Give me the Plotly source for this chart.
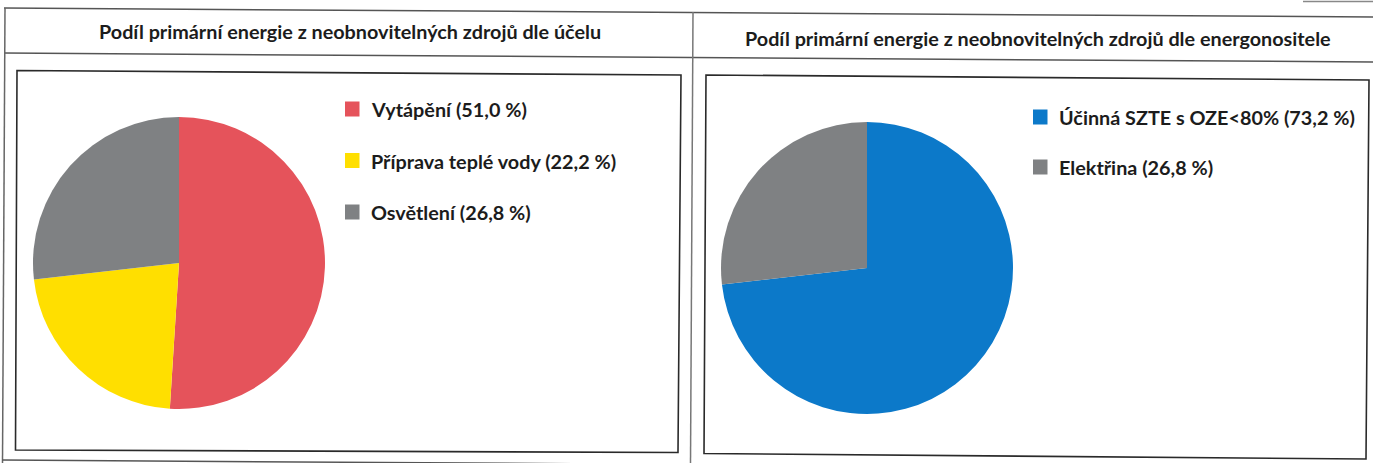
import plotly.graph_objects as go

W, H = 1373, 463

# ---- data ----
titles = ["Podíl primární energie z neobnovitelných zdrojů dle účelu",
          "Podíl primární energie z neobnovitelných zdrojů dle energonositele"]
labels_ucel = ["Vytápění", "Příprava teplé vody", "Osvětlení"]
values_ucel = [51.0, 22.2, 26.8]
colors_ucel = ["#E5535B", "#FFDF00", "#7F8183"]

labels_nositel = ["Účinná SZTE s OZE<80%", "Elektřina"]
values_nositel = [73.2, 26.8]
colors_nositel = ["#0C79C9", "#7F8183"]

FONT = "Lato"
FS = 19.8
TXT = "#1c1c1c"


def px(x):
    return x / W


def py(y):
    return 1 - y / H


def dom(cx, cy, r):
    return dict(x=[px(cx - r), px(cx + r)], y=[py(cy + r), py(cy - r)])


fig = go.Figure()
fig.add_trace(go.Pie(labels=labels_ucel, values=values_ucel, sort=False,
                     direction="clockwise", rotation=0, textinfo="none",
                     marker=dict(colors=colors_ucel, line=dict(width=0)),
                     domain=dom(179, 263, 146), showlegend=False))
fig.add_trace(go.Pie(labels=labels_nositel, values=values_nositel, sort=False,
                     direction="clockwise", rotation=0, textinfo="none",
                     marker=dict(colors=colors_nositel, line=dict(width=0)),
                     domain=dom(867, 268, 146), showlegend=False))

shapes = []
annotations = []


def line(x0, y0, x1, y1, color="#444", width=1.5):
    shapes.append(dict(type="line", xref="paper", yref="paper",
                       x0=px(x0), y0=py(y0), x1=px(x1), y1=py(y1),
                       line=dict(color=color, width=width)))


def quad(pts, color="#2a2a2a", width=1.6):
    path = "M " + " L ".join(f"{px(x):.5f},{py(y):.5f}" for x, y in pts) + " Z"
    shapes.append(dict(type="path", xref="paper", yref="paper", path=path,
                       line=dict(color=color, width=width)))


# outer table
line(4, 8, 1373, 17, "#555", 1.5)
line(4, 53, 1373, 62, "#555", 1.5)
line(5, 8, 2.5, 463, "#666", 1.5)
line(2.5, 460, 1373, 469, "#555", 1.5)
line(693, 12, 690.5, 463, "#777", 1.5)
line(1303, 1.5, 1373, 1.5, "#888", 1.5)

# inner boxes
quad([(17, 70.5), (681, 75), (678, 452.5), (15.5, 450)])
quad([(706, 75), (1369, 80), (1366, 459), (704, 453.5)])

# titles
for t, (cx, cy) in zip(titles, [(349.5, 31), (1038, 38)]):
    annotations.append(dict(text=f"<b>{t}</b>", x=px(cx), y=py(cy),
                            xref="paper", yref="paper", showarrow=False,
                            xanchor="center", yanchor="middle",
                            font=dict(family=FONT, size=FS, color=TXT)))


def legend(labels, values, colors, sq_x, text_x, y0, dy):
    for i, (lab, val, col) in enumerate(zip(labels, values, colors)):
        yc = y0 + i * dy
        shapes.append(dict(type="rect", xref="paper", yref="paper",
                           x0=px(sq_x), x1=px(sq_x + 14.5),
                           y0=py(yc + 7.5), y1=py(yc - 7.5),
                           fillcolor=col, line=dict(width=0)))
        txt = f"{val:.1f}".replace(".", ",")
        annotations.append(dict(text=f"<b>{lab} ({txt} %)</b>",
                                x=px(text_x), y=py(yc),
                                xref="paper", yref="paper", showarrow=False,
                                xanchor="left", yanchor="middle",
                                font=dict(family=FONT, size=FS, color=TXT)))


legend(labels_ucel, values_ucel, colors_ucel, 345, 369, 109, 51.5)
legend(labels_nositel, values_nositel, colors_nositel, 1033, 1057, 117, 50)

fig.update_layout(width=W, height=H, margin=dict(l=0, r=0, t=0, b=0),
                  paper_bgcolor="white", plot_bgcolor="white",
                  shapes=shapes, annotations=annotations, showlegend=False)

fig.write_html("out.html", config={"displayModeBar": False},
               post_script="document.body.style.margin='0';"
                           "document.body.style.overflow='hidden';")
